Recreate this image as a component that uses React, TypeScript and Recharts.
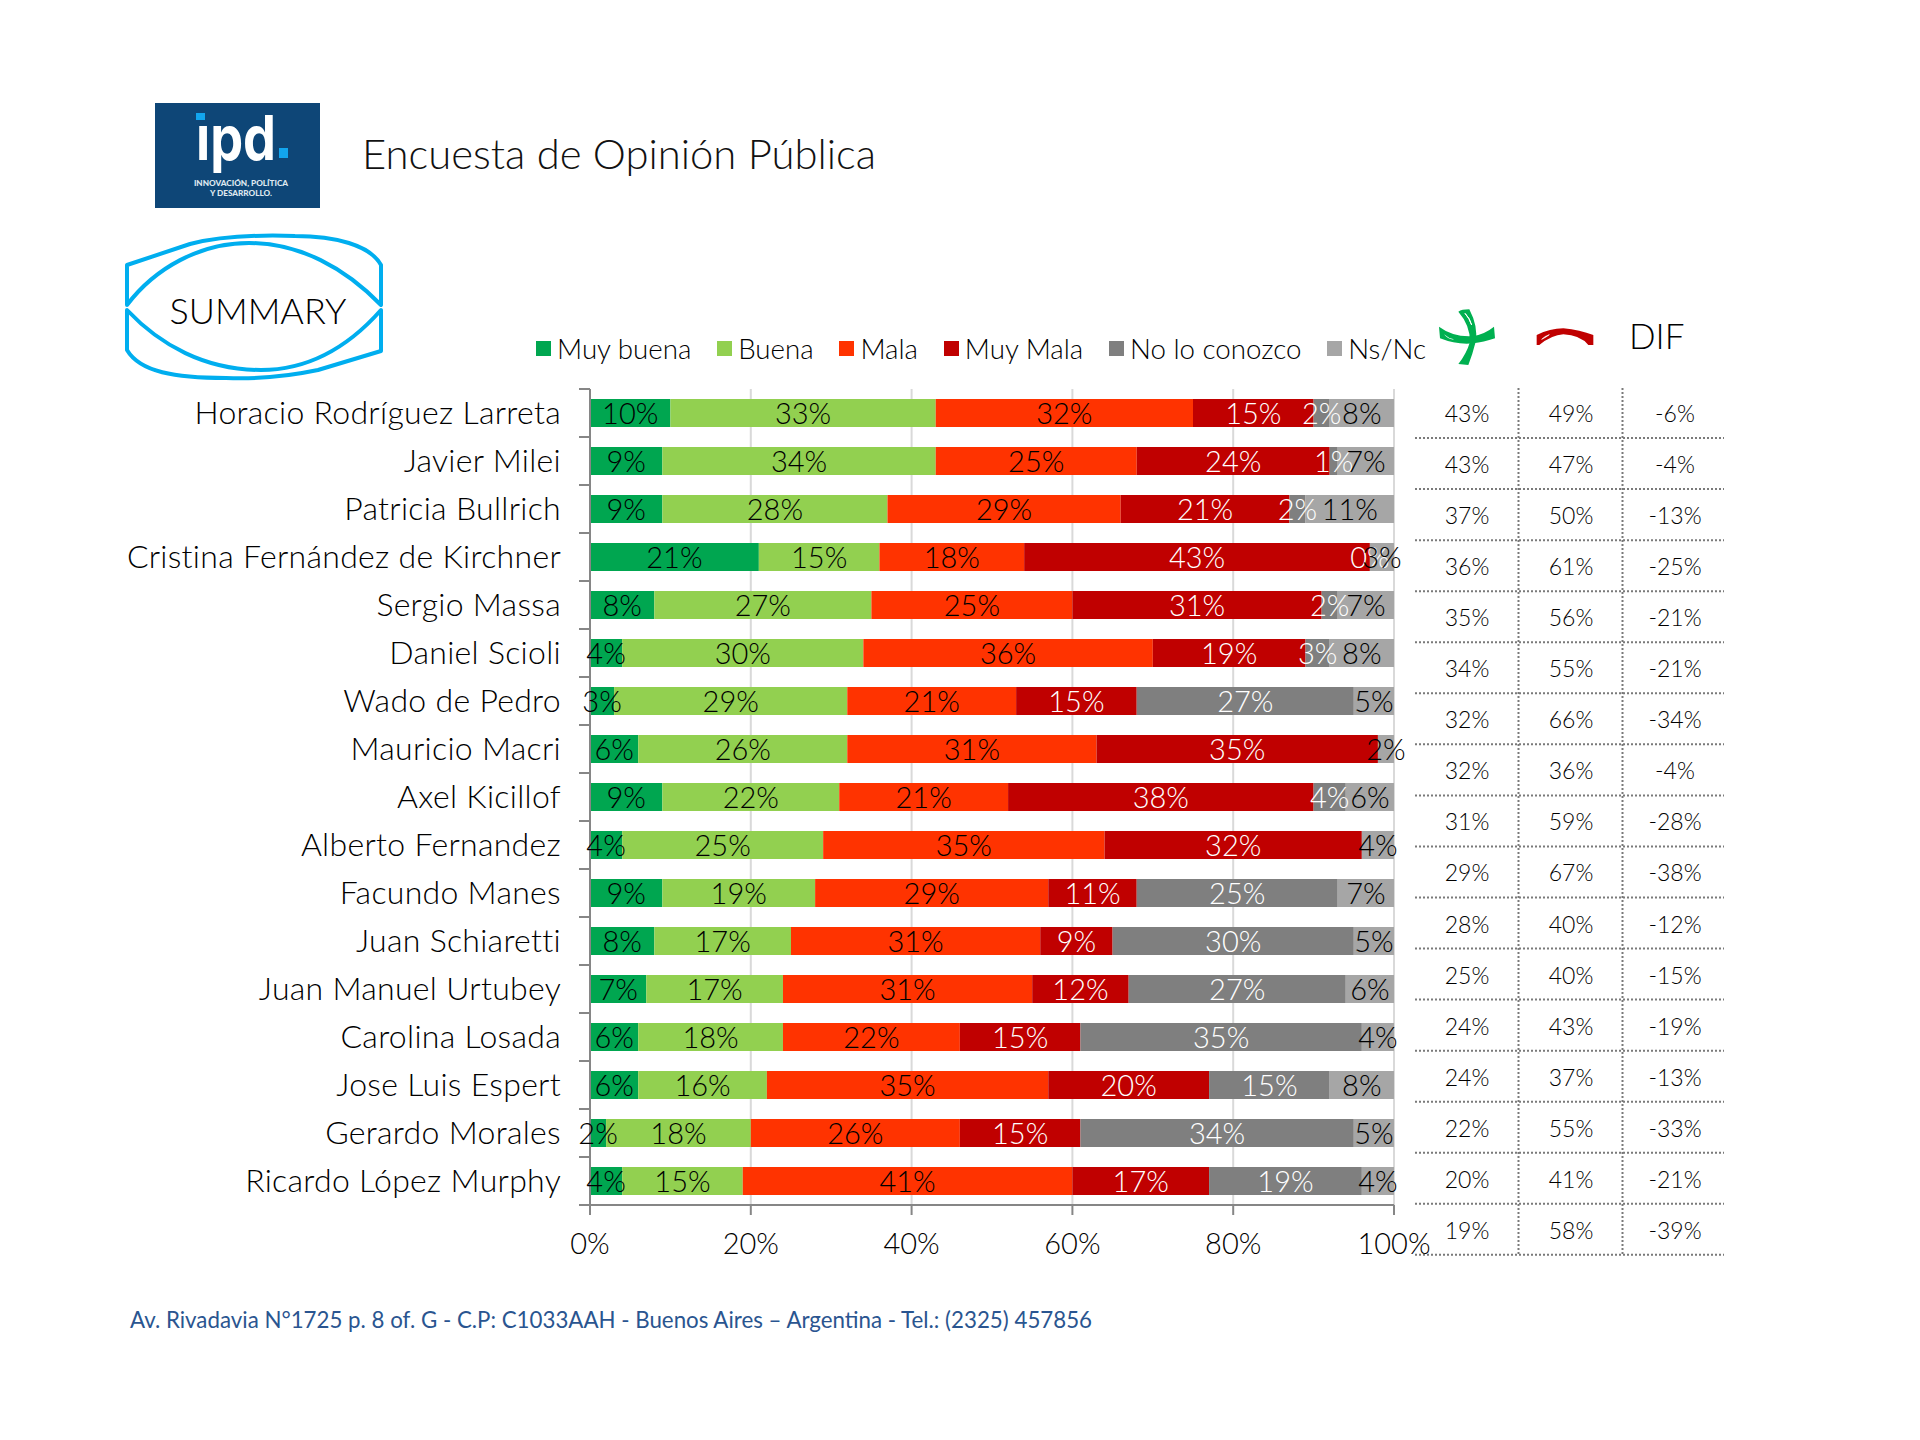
import React from 'react';
import { BarChart, Bar, XAxis, YAxis, CartesianGrid, LabelList, Legend } from 'recharts';

const candidates = ['Horacio Rodríguez Larreta','Javier Milei','Patricia Bullrich','Cristina Fernández de Kirchner','Sergio Massa','Daniel Scioli','Wado de Pedro','Mauricio Macri','Axel Kicillof','Alberto Fernandez','Facundo Manes','Juan Schiaretti','Juan Manuel Urtubey','Carolina Losada','Jose Luis Espert','Gerardo Morales','Ricardo López Murphy'];
const muyBuena = [10,9,9,21,8,4,3,6,9,4,9,8,7,6,6,2,4];
const buena = [33,34,28,15,27,30,29,26,22,25,19,17,17,18,16,18,15];
const mala = [32,25,29,18,25,36,21,31,21,35,29,31,31,22,35,26,41];
const muyMala = [15,24,21,43,31,19,15,35,38,32,11,9,12,15,20,15,17];
const noConozco = [2,1,2,0,2,3,27,null,4,null,25,30,27,35,15,34,19];
const nsNc = [8,7,11,3,7,8,5,2,6,4,7,5,6,4,8,5,4];
const positiva = [43,43,37,36,35,34,32,32,31,29,28,25,24,24,22,20,19];
const negativa = [49,47,50,61,56,55,66,36,59,67,40,40,43,37,55,41,58];
const dif = [-6,-4,-13,-25,-21,-21,-34,-4,-28,-38,-12,-15,-19,-13,-33,-21,-39];
const xTicks = [0,20,40,60,80,100];

const series = [
  { key: 'muyBuena', name: 'Muy buena', color: '#00a650', label: '#000', values: muyBuena },
  { key: 'buena', name: 'Buena', color: '#92d050', label: '#000', values: buena },
  { key: 'mala', name: 'Mala', color: '#ff3300', label: '#000', values: mala },
  { key: 'muyMala', name: 'Muy Mala', color: '#c00000', label: '#fff', values: muyMala },
  { key: 'noConozco', name: 'No lo conozco', color: '#7f7f7f', label: '#fff', values: noConozco },
  { key: 'nsNc', name: 'Ns/Nc', color: '#a6a6a6', label: '#000', values: nsNc },
];

const rows = candidates.map((name, i) => {
  const r: any = { name };
  series.forEach((s) => { r[s.key] = s.values[i]; });
  return r;
});

const FONT = 'Lato, "Open Sans", sans-serif';
const AXIS_X = 590;
const BAND = 48;
const pct = (v: any) => (v === null || v === undefined ? '' : `${v}%`);

const CategoryTick = (props: any) => {
  const { y, payload, index } = props;
  return (
    <g>
      <line x1={AXIS_X - 11} x2={AXIS_X} y1={y - BAND / 2} y2={y - BAND / 2} stroke="#868686" strokeWidth={2} />
      {index === candidates.length - 1 && (
        <line x1={AXIS_X - 11} x2={AXIS_X} y1={y + BAND / 2} y2={y + BAND / 2} stroke="#868686" strokeWidth={2} />
      )}
      <text x={561} y={y} dy={11} textAnchor="end" fontFamily={FONT} fontWeight={300} fontSize={32} letterSpacing={0.3} fill="#000">{payload.value}</text>
    </g>
  );
};

const LegendContent = () => (
  <div style={{ display: 'flex', alignItems: 'center', whiteSpace: 'nowrap', fontFamily: FONT, fontWeight: 300, fontSize: 27.7, color: '#000', height: 0 }}>
    {series.map((s) => (
      <span key={s.key} style={{ display: 'inline-flex', alignItems: 'center', marginRight: 25.8 }}>
        <span style={{ width: 15, height: 15, background: s.color, marginRight: 6, display: 'inline-block' }} />
        {s.name}
      </span>
    ))}
  </div>
);

// The last series' labels also carry the label of an empty "No lo conozco"
// segment: that segment has no width of its own, so it starts where this one does.
const labelText = { fontFamily: FONT, fontWeight: 300, fontSize: 29 };
const NsNcLabel = (props: any) => {
  const { x, y, width, height, value, index } = props;
  const cy = y + height / 2 + 1;
  return (
    <g>
      {noConozco[index] === 0 && (
        <text x={x} y={cy} dy="0.36em" textAnchor="middle" fill="#fff" {...labelText}>{pct(noConozco[index])}</text>
      )}
      <text x={x + width / 2} y={cy} dy="0.36em" textAnchor="middle" fill="#000" {...labelText}>{pct(value)}</text>
    </g>
  );
};

const tableLeft = 1415, tableRight = 1724, rowTop = 388, rowH = 51.05;
const colX = [1467, 1571, 1675];
const vLines = [1518.5, 1622.5];
const cols = [positiva, negativa, dif];

const Overlay = () => (
  <svg width={1920} height={1440} style={{ position: 'absolute', left: 0, top: 0, pointerEvents: 'none' }} fontFamily={FONT}>
    {/* logo */}
    <rect x={155} y={103} width={165} height={105} fill="#0e4677" />
    <text x={196} y={160} fontFamily="Inter, sans-serif" fontWeight={700} fontSize={62} fill="#fff" textLength={80} lengthAdjust="spacingAndGlyphs">ipd</text>
    <rect x={193} y={108} width={16} height={14} fill="#0e4677" />
    <rect x={196} y={113} width={9} height={7} fill="#12a5ee" />
    <rect x={279} y={148} width={9} height={10} fill="#12a5ee" />
    <text x={241} y={185.5} textAnchor="middle" fontWeight={900} fontSize={8.2} fill="#dfe8f0" fontFamily="Lato, sans-serif">INNOVACIÓN, POLÍTICA</text>
    <text x={241} y={195.5} textAnchor="middle" fontWeight={900} fontSize={8.2} fill="#dfe8f0" fontFamily="Lato, sans-serif">Y DESARROLLO.</text>
    {/* title */}
    <text x={362} y={169} fontWeight={300} fontSize={41.8} fill="#111">Encuesta de Opinión Pública</text>
    {/* summary badge */}
    <g fill="none" stroke="#00aeef" strokeWidth={4} strokeLinejoin="round">
      <path d="M127,305 C155,268 200,243 249,243 C300,243 345,268 381,305 L381,265 C370,245 335,236 295,236 C265,235 225,235 190,244 L127,265 Z" />
      <path d="M127,310 C160,345 205,370 261,370 C310,370 350,345 381,310 L381,351 L318,370 C280,378 250,379 226,378 C175,378 140,372 127,350 Z" />
    </g>
    <text x={258} y={324} textAnchor="middle" fontWeight={300} fontSize={36} fill="#000">SUMMARY</text>
    {/* icons */}
    <svg x={1420} y={300} width={200} height={80} viewBox="0 0 600 240">
      <path d="M115,35 Q125,28 148,28 Q175,80 167,125 Q157,165 145,195 L115,192 Q140,160 150,125 Q150,75 115,35 Z" fill="#00b050" />
      <path d="M57,80 Q100,112 160,108 Q195,102 222,80 L225,115 Q190,127 160,130 Q110,135 60,115 Z" fill="#00b050" />
      <path d="M135,40 Q150,55 155,75 Q148,55 135,40 Z" fill="#fff" stroke="#fff" strokeWidth={3} />
      <path d="M72,103 Q85,115 102,118 Q85,120 72,103 Z" fill="#fff" />
      <path d="M350,105 Q390,85 430,85 Q480,90 520,105 L520,135 L505,135 Q480,105 430,103 Q395,105 358,135 L350,135 Z" fill="#c00000" />
      <path d="M365,118 Q375,108 388,104 Q378,112 365,118 Z" fill="#fff" stroke="#fff" strokeWidth={2} />
    </svg>
    <text x={1629} y={349} fontWeight={300} fontSize={35} fill="#000">DIF</text>
    {/* table */}
    <g stroke="#7a7a7a" strokeWidth={2} strokeDasharray="2 2">
      {vLines.map((x) => <line key={x} x1={x} x2={x} y1={rowTop} y2={rowTop + rowH * candidates.length} />)}
      {candidates.map((c, i) => <line key={c} x1={tableLeft} x2={tableRight} y1={rowTop + rowH * (i + 1) - 1} y2={rowTop + rowH * (i + 1) - 1} />)}
    </g>
    {cols.map((col, c) => col.map((v, i) => (
      <text key={`${c}-${i}`} x={colX[c]} y={rowTop + rowH * (i + 0.5)} dy={8.5} textAnchor="middle" fontWeight={300} fontSize={23} fill="#000">{v}%</text>
    )))}
    {/* footer */}
    <text x={130} y={1328} fontWeight={400} fontSize={22.3} fill="#2a5590">Av. Rivadavia N°1725 p. 8 of. G - C.P: C1033AAH - Buenos Aires – Argentina - Tel.: (2325) 457856</text>
  </svg>
);

export default function App() {
  return (
    <div style={{ position: 'absolute', left: 0, top: 0, width: 1920, height: 1440, background: '#fff', overflow: 'hidden' }}>
      <BarChart
        width={1920}
        height={1440}
        data={rows}
        layout="vertical"
        barSize={28}
        margin={{ top: 389, right: 526, bottom: 235 - 60, left: 90 }}
      >
        <CartesianGrid vertical horizontal={false} stroke="#d9d9d9" strokeWidth={2} />
        <XAxis
          type="number"
          domain={[0, 100]}
          ticks={xTicks}
          tickFormatter={pct}
          height={60}
          tickSize={10}
          tickMargin={18}
          stroke="#868686"
          strokeWidth={2}
          tick={{ fontFamily: FONT, fontWeight: 300, fontSize: 29, fill: '#000' }}
          interval={0}
        />
        <YAxis
          type="category"
          dataKey="name"
          width={500}
          tickLine={false}
          stroke="#868686"
          strokeWidth={2}
          tick={<CategoryTick />}
          interval={0}
        />
        <Legend
          verticalAlign="top"
          content={<LegendContent />}
          wrapperStyle={{ top: 348, left: 536, width: 'auto', height: 0 }}
        />
        {series.map((s) => (
          <Bar key={s.key} dataKey={s.key} name={s.name} stackId="a" fill={s.color} isAnimationActive={false}>
            {s.key === 'nsNc' ? (
              <LabelList dataKey={s.key} position="center" content={NsNcLabel} />
            ) : (
              <LabelList dataKey={s.key} position="center" formatter={pct} fill={s.label} fontFamily={FONT} fontWeight={300} fontSize={29} dy={1} />
            )}
          </Bar>
        ))}
      </BarChart>
      <Overlay />
    </div>
  );
}
